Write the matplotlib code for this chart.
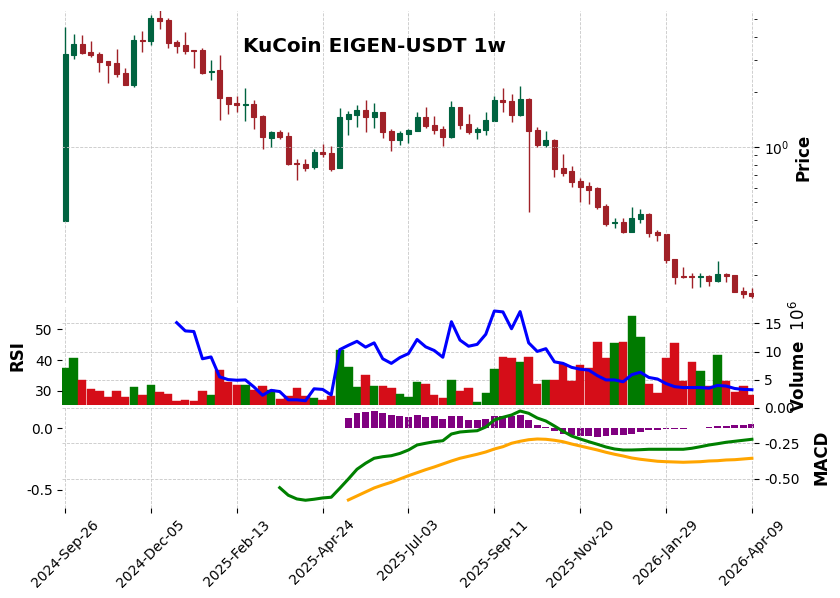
import numpy as np
import pandas as pd
import matplotlib
matplotlib.use("Agg")
import matplotlib.pyplot as plt

nan = np.nan

# --- weekly candles (KuCoin EIGEN-USDT) ---
dates = pd.date_range("2024-09-26", periods=81, freq="7D")

opens = [0.396, 3.194, 3.655, 3.305, 3.222, 2.951, 2.877, 2.537, 2.190, 3.843,
         3.809, 5.069, 4.943, 3.748, 3.609, 3.388, 3.388, 2.570, 2.634, 1.876,
         1.740, 1.703, 1.718, 1.477, 1.124, 1.208, 1.148, 0.818, 0.807, 0.780,
         0.939, 0.927, 0.771, 1.428, 1.501, 1.593, 1.464, 1.553, 1.223, 1.096,
         1.178, 1.228, 1.458, 1.319, 1.259, 1.134, 1.654, 1.336, 1.212, 1.239,
         1.392, 1.806, 1.784, 1.501, 1.829, 1.239, 1.029, 1.092, 0.768, 0.739,
         0.652, 0.612, 0.599, 0.476, 0.383, 0.391, 0.344, 0.406, 0.430, 0.343,
         0.335, 0.244, 0.197, 0.197, 0.196, 0.197, 0.186, 0.202, 0.200, 0.163,
         0.159]
highs = [4.544, 4.145, 4.093, 3.781, 3.292, 2.951, 3.419, 2.692, 4.078, 4.288,
         5.245, 5.606, 5.050, 3.829, 4.235, 3.388, 3.488, 2.978, 3.170, 1.876,
         1.892, 2.093, 1.806, 1.496, 1.223, 1.239, 1.208, 0.863, 0.863, 0.979,
         1.035, 1.009, 1.633, 1.567, 1.690, 1.806, 1.740, 1.553, 1.249, 1.223,
         1.249, 1.547, 1.648, 1.477, 1.297, 1.784, 1.654, 1.514, 1.286, 1.553,
         1.899, 2.093, 1.941, 2.146, 1.860, 1.291, 1.223, 1.102, 0.916, 0.787,
         0.674, 0.646, 0.607, 0.486, 0.408, 0.408, 0.468, 0.457, 0.434, 0.352,
         0.335, 0.244, 0.222, 0.206, 0.206, 0.200, 0.237, 0.205, 0.200, 0.172,
         0.170]
lows = [0.396, 3.015, 3.210, 3.092, 2.560, 2.229, 2.404, 2.174, 2.120, 3.318,
        3.609, 4.398, 3.462, 3.251, 3.210, 2.692, 2.506, 2.314, 1.405, 1.509,
        1.547, 1.382, 1.249, 0.971, 1.004, 1.102, 0.800, 0.658, 0.742, 0.755,
        0.882, 0.737, 0.771, 1.159, 1.291, 1.203, 1.275, 1.120, 0.947, 1.022,
        1.056, 1.223, 1.270, 1.173, 1.016, 1.124, 1.249, 1.182, 1.102, 1.159,
        1.392, 1.547, 1.364, 1.483, 0.440, 0.996, 1.004, 0.688, 0.697, 0.607,
        0.502, 0.486, 0.458, 0.372, 0.360, 0.338, 0.342, 0.386, 0.321, 0.305,
        0.231, 0.178, 0.192, 0.169, 0.171, 0.174, 0.184, 0.182, 0.161, 0.149,
        0.150]
closes = [3.222, 3.655, 3.276, 3.194, 2.925, 2.817, 2.515, 2.190, 3.843, 3.809,
          5.069, 4.900, 3.715, 3.578, 3.360, 3.360, 2.537, 2.602, 1.860, 1.724,
          1.703, 1.718, 1.464, 1.130, 1.208, 1.134, 0.810, 0.810, 0.768, 0.939,
          0.919, 0.761, 1.458, 1.514, 1.593, 1.464, 1.553, 1.212, 1.092, 1.188,
          1.239, 1.458, 1.302, 1.239, 1.138, 1.654, 1.324, 1.208, 1.254, 1.405,
          1.806, 1.768, 1.501, 1.829, 1.228, 1.025, 1.092, 0.761, 0.724, 0.646,
          0.607, 0.582, 0.468, 0.381, 0.391, 0.344, 0.408, 0.430, 0.340, 0.332,
          0.242, 0.196, 0.196, 0.196, 0.197, 0.186, 0.202, 0.197, 0.161, 0.157,
          0.153]

# volume in millions
volume_m = [7.11, 8.87, 4.99, 3.40, 3.05, 1.99, 3.05, 1.99, 3.76, 2.35,
            4.11, 2.87, 2.52, 1.29, 1.46, 1.29, 3.05, 2.35, 6.75, 4.69,
            4.11, 4.11, 3.23, 3.93, 3.23, 1.64, 2.17, 3.58, 2.17, 1.82,
            1.46, 2.17, 10.28, 7.28, 3.76, 5.87, 3.93, 3.93, 3.58, 2.52,
            1.99, 4.64, 4.29, 2.35, 1.82, 4.99, 3.05, 3.58, 1.11, 2.70,
            6.93, 9.05, 8.87, 8.17, 9.05, 4.29, 4.99, 4.99, 7.81, 4.81,
            7.64, 7.11, 11.69, 8.87, 11.52, 11.69, 16.28, 12.57, 4.29, 2.70,
            8.87, 11.52, 4.81, 8.17, 6.58, 3.93, 9.40, 4.81, 2.87, 3.93,
            2.35]

rsi = [nan] * 13 + [52.2, 49.5, 49.3, 40.4, 41.0, 34.5, 33.6, 33.4, 33.5, 31.2,
                    28.5, 30.1, 29.7, 27.0, 27.0, 26.7, 30.6, 30.4, 28.6, 43.4,
                    44.8, 46.1, 44.2, 45.6, 40.4, 38.9, 40.8, 42.1, 46.7, 44.3,
                    43.1, 40.9, 52.5, 46.5, 44.5, 45.1, 48.4, 56.0, 55.7, 50.2,
                    55.8, 45.6, 42.8, 43.7, 39.4, 38.9, 37.6, 37.0, 36.7, 34.9,
                    33.5, 33.5, 32.9, 35.2, 36.0, 34.3, 33.8, 32.3, 31.3, 31.0,
                    31.0, 31.0, 30.8, 31.7, 31.5, 30.7, 30.4, 30.3]

macd = [nan] * 25 + [-0.561, -0.614, -0.640, -0.649, -0.642, -0.633, -0.628, -0.565,
                     -0.500, -0.432, -0.390, -0.355, -0.344, -0.337, -0.321, -0.297,
                     -0.262, -0.250, -0.239, -0.232, -0.185, -0.171, -0.166, -0.162,
                     -0.136, -0.087, -0.068, -0.052, -0.024, -0.040, -0.073, -0.094,
                     -0.129, -0.166, -0.199, -0.220, -0.239, -0.257, -0.276, -0.290,
                     -0.297, -0.297, -0.295, -0.292, -0.292, -0.292, -0.292, -0.292,
                     -0.285, -0.274, -0.262, -0.253, -0.243, -0.236, -0.229, -0.222]

signal = [nan] * 33 + [-0.647, -0.619, -0.591, -0.563, -0.542, -0.523, -0.500, -0.477,
                       -0.456, -0.435, -0.416, -0.395, -0.374, -0.355, -0.341, -0.327,
                       -0.311, -0.290, -0.274, -0.250, -0.236, -0.225, -0.220, -0.222,
                       -0.229, -0.239, -0.255, -0.269, -0.283, -0.297, -0.313, -0.327,
                       -0.339, -0.353, -0.362, -0.369, -0.376, -0.379, -0.381, -0.383,
                       -0.381, -0.379, -0.374, -0.372, -0.367, -0.365, -0.360, -0.355]

hist = [nan] * 33 + [0.087, 0.120, 0.128, 0.136, 0.120, 0.105, 0.097, 0.092,
                     0.105, 0.092, 0.097, 0.079, 0.097, 0.097, 0.071, 0.065,
                     0.079, 0.097, 0.097, 0.103, 0.105, 0.065, 0.024, 0.011,
                     -0.022, -0.049, -0.057, -0.062, -0.065, -0.070, -0.065, -0.057,
                     -0.057, -0.043, -0.030, -0.016, -0.011, -0.008, -0.006, -0.002,
                     0.0, 0.006, 0.013, 0.018, 0.022, 0.024, 0.030, 0.032]

# --- styling (charles-like) ---
UP, DOWN = "#006340", "#A02128"
VUP, VDOWN = "#007a00", "#d50d18"
GRID = dict(color="#c8c8c8", linestyle="--", linewidth=0.6)

x = np.arange(len(dates))
o, h, l, c = map(np.array, (opens, highs, lows, closes))
up = c >= o
ccol = np.where(up, UP, DOWN)
vcol = np.where(up, VUP, VDOWN)

fig = plt.figure(figsize=(8.4, 5.98), dpi=100)
L, W = 0.0744, 0.8238
ax_p = fig.add_axes([L, 0.4933, W, 0.4875])
ax_v = fig.add_axes([L, 0.3232, W, 0.1634], sharex=ax_p)
ax_m = fig.add_axes([L, 0.1513, W, 0.1676], sharex=ax_p)
ax_r = ax_v.twinx()
ax_l = ax_m.twinx()

# --- price panel ---
ax_p.vlines(x, l, h, colors=ccol, linewidth=1.0)
ax_p.bar(x, c - o, bottom=o, width=0.58, color=ccol, edgecolor=ccol, linewidth=0.8)
ax_p.set_yscale("log")
ax_p.set_ylim(0.1405, 5.50)
ax_p.yaxis.tick_right()
ax_p.yaxis.set_label_position("right")
ax_p.set_ylabel("Price", fontsize=12, fontweight="bold")
ax_p.yaxis.set_label_coords(1.058, 0.5)

# --- volume + RSI panel ---
ax_v.bar(x, volume_m, width=0.98, color=vcol, edgecolor=vcol, linewidth=0.3)
ax_v.set_ylim(0.63, 17.87)
ax_v.set_yticks([5, 10, 15])
ax_v.yaxis.tick_right()
ax_v.yaxis.set_label_position("right")
ax_v.set_ylabel("Volume  $10^{6}$", fontsize=12, fontweight="bold")
ax_v.yaxis.set_label_coords(1.050, 0.5)
ax_v.set_axisbelow(True)

ax_r.plot(x, rsi, color="blue", linewidth=2.2)
ax_r.set_ylim(25.4, 57.3)
ax_r.set_yticks([30, 40, 50])
ax_r.yaxis.tick_left()
ax_r.yaxis.set_label_position("left")
ax_r.set_ylabel("RSI", fontsize=12, fontweight="bold")
ax_r.yaxis.set_label_coords(-0.0513, 0.5)

# --- MACD panel ---
hv = np.array(hist)
ax_m.bar(x, np.nan_to_num(hv), width=0.8, color="purple")
ax_m.set_ylim(-0.642, 0.170)
ax_m.set_yticks([-0.5, 0.0])
ax_m.yaxis.set_major_formatter(plt.FormatStrFormatter("%.1f"))
ax_m.yaxis.tick_left()

ax_l.plot(x, macd, color="green", linewidth=2.2)
ax_l.plot(x, signal, color="orange", linewidth=2.2)
ax_l.set_ylim(-0.70, 0.002)
ax_l.set_yticks([-0.5, -0.25, 0.0])
ax_l.yaxis.set_major_formatter(plt.FormatStrFormatter("%.2f"))
ax_l.yaxis.set_label_position("right")
ax_l.set_ylabel("MACD", fontsize=12, fontweight="bold")
ax_l.yaxis.set_label_coords(1.084, 0.5)

# --- x axis ---
tick_pos = x[::10]
ax_p.set_xlim(-0.3, len(x) - 1 + 0.3)
ax_m.set_xticks(tick_pos)
ax_m.set_xticklabels([dates[i].strftime("%Y-%b-%d") for i in tick_pos],
                     rotation=45, ha="center", fontsize=10)

for ax in (ax_p, ax_v, ax_m, ax_r, ax_l):
    for s in ax.spines.values():
        s.set_visible(False)
    ax.tick_params(axis="y", labelsize=10)

ax_p.tick_params(axis="x", bottom=False, labelbottom=False)
ax_v.tick_params(axis="x", bottom=False, labelbottom=False)
ax_r.tick_params(axis="x", bottom=False, labelbottom=False)
ax_l.tick_params(axis="x", bottom=False, labelbottom=False)

ax_p.grid(True, which="major", **GRID)
ax_v.grid(True, **GRID)
ax_l.grid(True, **GRID)
ax_m.grid(True, axis="x", **GRID)

fig.text(0.4464, 0.922, "KuCoin EIGEN-USDT 1w", ha="center", va="center",
         fontsize=14.4, fontweight="bold")

fig.savefig("out.png", dpi=100)
